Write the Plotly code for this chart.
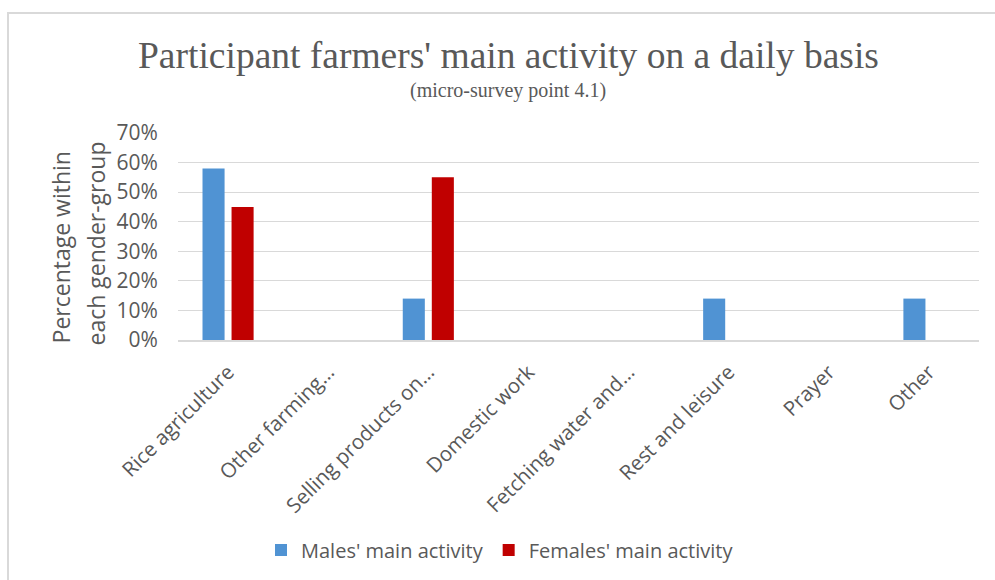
import plotly.graph_objects as go

# Daily main activity, share of respondents within each gender group (%)
categories = [
    "Rice agriculture",
    "Other farming…",
    "Selling products on…",
    "Domestic work",
    "Fetching water and…",
    "Rest and leisure",
    "Prayer",
    "Other",
]
males_pct = [58, 0, 14, 0, 0, 14, 0, 14]
females_pct = [45, 0, 55, 0, 0, 0, 0, 0]
y_ticks = [0, 10, 20, 30, 40, 50, 60, 70]

TEXT = "#595959"
GRID = "#d9d9d9"
FONT = "Open Sans"

# plot-area geometry in pixels, used to place the frame and headings
W, H = 995, 580
L, R, T, B = 178, 16, 133, 239
PW, PH = W - L - R, H - T - B


def px_x(x):
    return (x - L) / PW


def px_y(y):
    return (H - B - y) / PH


fig = go.Figure()
fig.add_trace(go.Bar(
    x=categories, y=males_pct, name="Males' main activity",
    marker=dict(color="#5093d3", line=dict(width=0)),
))
fig.add_trace(go.Bar(
    x=categories, y=females_pct, name="Females' main activity",
    marker=dict(color="#c00000", line=dict(width=0)),
))

fig.update_layout(
    width=W, height=H,
    margin=dict(l=L, r=R, t=T, b=B, pad=0),
    paper_bgcolor="white",
    plot_bgcolor="white",
    barmode="group",
    bargap=0.42,
    bargroupgap=0.24,
    font=dict(family=FONT, size=20, color=TEXT),
    showlegend=True,
    legend=dict(
        orientation="h",
        x=px_x(500), xanchor="center",
        y=px_y(550), yanchor="middle",
        font=dict(family=FONT, size=20, color=TEXT),
        itemsizing="constant",
        bgcolor="rgba(0,0,0,0)",
    ),
)

fig.update_xaxes(
    type="category",
    tickangle=-45,
    ticks="outside", ticklen=10, tickcolor="rgba(0,0,0,0)",
    showgrid=False,
    showline=True, linecolor=GRID, linewidth=2,
    tickfont=dict(family=FONT, size=20.5, color=TEXT),
)
fig.update_yaxes(
    range=[0, 70],
    tickvals=y_ticks,
    ticktext=[f"{v}%" for v in y_ticks],
    ticks="outside", ticklen=15, tickcolor="rgba(0,0,0,0)",
    showgrid=True, gridcolor=GRID, gridwidth=1,
    zeroline=False,
    showline=False,
    tickfont=dict(family=FONT, size=21, color=TEXT),
)

# chart frame
fig.add_shape(
    type="rect", xref="paper", yref="paper",
    x0=px_x(8), x1=px_x(1020), y0=px_y(600), y1=px_y(12.5),
    line=dict(color=GRID, width=2), fillcolor="rgba(0,0,0,0)",
    layer="below",
)

# title and subtitle
fig.add_annotation(
    text="Participant farmers' main activity on a daily basis",
    xref="paper", yref="paper", x=px_x(508.5), y=px_y(55),
    xanchor="center", yanchor="middle", showarrow=False,
    font=dict(family="Liberation Serif", size=37.5, color=TEXT),
)
fig.add_annotation(
    text="(micro-survey point 4.1)",
    xref="paper", yref="paper", x=px_x(508), y=px_y(90),
    xanchor="center", yanchor="middle", showarrow=False,
    font=dict(family="Liberation Serif", size=20, color=TEXT),
)

# two-line vertical axis title
for line, xc, yc in [("Percentage within", 61, 248), ("each gender-group", 96, 244)]:
    fig.add_annotation(
        text=line, textangle=-90,
        xref="paper", yref="paper", x=px_x(xc), y=px_y(yc),
        xanchor="center", yanchor="middle", showarrow=False,
        font=dict(family=FONT, size=23, color=TEXT),
    )

fig.write_html("out.html")
